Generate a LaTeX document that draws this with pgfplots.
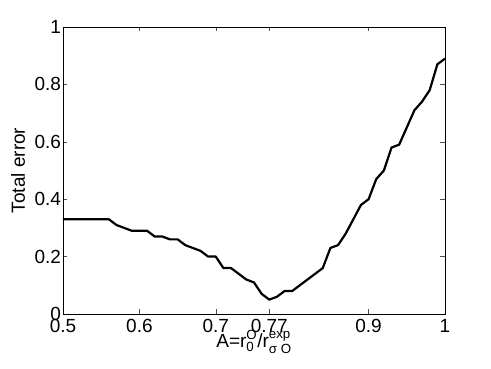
\documentclass[border=0pt]{standalone}
\usepackage{pgfplots}
\pgfplotsset{compat=1.18}
\usepackage{amsmath}
\usepackage{fontspec}
\setmainfont{Liberation Sans}

\begin{document}
\begin{tikzpicture}
\useasboundingbox (-63pt,-55pt) rectangle (428pt,314pt);
\begin{axis}[
  scale only axis,
  width=382pt, height=287pt,
  xmin=0.5, xmax=1,
  ymin=0, ymax=1,
  xtick={0.5,0.6,0.7,0.77,0.9,1},
  xticklabels={0.5,0.6,0.7,0.77,0.9,1},
  ytick={0,0.2,0.4,0.6,0.8,1},
  yticklabels={0,0.2,0.4,0.6,0.8,1},
  tick align=inside,
  major tick length=4.5pt,
  tick style={black!70, line width=0.5pt},
  axis line style={line width=0.6pt},
  ticklabel style={font=\fontsize{19}{21}\selectfont},
  xticklabel style={yshift=-2pt},
  yticklabel style={xshift=1.5pt},
  label style={font=\fontsize{19}{21}\selectfont},
  ylabel={Total error},
  ylabel style={at={(axis description cs:-0.0995,0.5)}, anchor=base},
  xlabel={$\text{A=r}_{\text{0}}^{\text{O}}\text{/r}_{\text{σ O}}^{\text{exp}}$},
  xlabel style={at={(axis description cs:0.5,-0.115)}, anchor=base},
]
\addplot[black, line width=2.2pt, line join=round] table {
x     y
0.50  0.33
0.51  0.33
0.52  0.33
0.53  0.33
0.54  0.33
0.55  0.33
0.56  0.33
0.57  0.31
0.58  0.30
0.59  0.29
0.60  0.29
0.61  0.29
0.62  0.27
0.63  0.27
0.64  0.26
0.65  0.26
0.66  0.24
0.67  0.23
0.68  0.22
0.69  0.20
0.70  0.20
0.71  0.16
0.72  0.16
0.73  0.14
0.74  0.12
0.75  0.11
0.76  0.07
0.77  0.05
0.78  0.06
0.79  0.08
0.80  0.08
0.81  0.10
0.82  0.12
0.83  0.14
0.84  0.16
0.85  0.23
0.86  0.24
0.87  0.28
0.88  0.33
0.89  0.38
0.90  0.40
0.91  0.47
0.92  0.50
0.93  0.58
0.94  0.59
0.95  0.65
0.96  0.71
0.97  0.74
0.98  0.78
0.99  0.87
1.00  0.89
};
\end{axis}
\end{tikzpicture}
\end{document}
